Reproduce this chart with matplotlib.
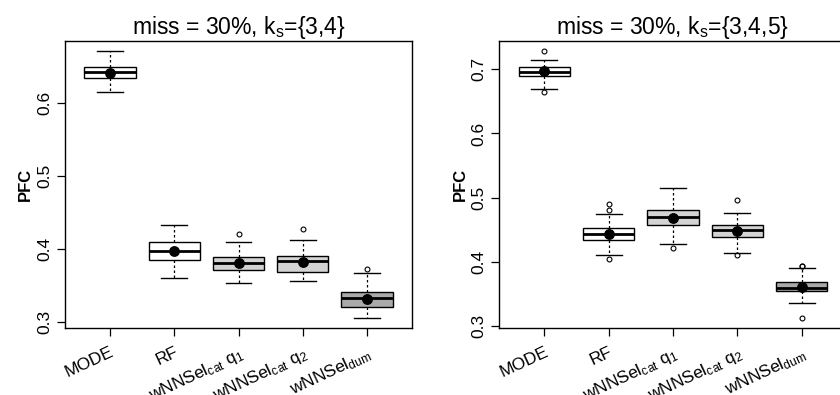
import numpy as np
import matplotlib
matplotlib.use("Agg")
import matplotlib.pyplot as plt

plt.rcParams['font.family'] = ['Liberation Sans', 'DejaVu Sans']
plt.rcParams['mathtext.fontset'] = 'custom'
plt.rcParams['mathtext.rm'] = 'Liberation Sans'
plt.rcParams['mathtext.it'] = 'Liberation Sans'

methods = ['MODE', 'RF', r'wNNSel$_{\rm cat}$ q$_{1}$', r'wNNSel$_{\rm cat}$ q$_{2}$', r'wNNSel$_{\rm dum}$']
box_colors = ['white', 'white', '#d3d3d3', '#d3d3d3', '#a9a9a9']
titles = [r'miss = 30%, k$_{\rm s}$={3,4}', r'miss = 30%, k$_{\rm s}$={3,4,5}']

# panel 1: miss = 30%, ks = {3,4}
whislo_34 = [0.615, 0.360, 0.353, 0.356, 0.305]
q1_34 = [0.634, 0.385, 0.371, 0.369, 0.320]
med_34 = [0.642, 0.397, 0.381, 0.383, 0.333]
q3_34 = [0.649, 0.409, 0.389, 0.391, 0.341]
whishi_34 = [0.671, 0.433, 0.410, 0.412, 0.367]
mean_34 = [0.641, 0.398, 0.381, 0.382, 0.332]
fliers_34 = [[], [], [0.420], [0.428], [0.373]]

# panel 2: miss = 30%, ks = {3,4,5}
whislo_345 = [0.670, 0.410, 0.428, 0.413, 0.335]
q1_345 = [0.690, 0.434, 0.458, 0.439, 0.354]
med_345 = [0.696, 0.444, 0.470, 0.449, 0.359]
q3_345 = [0.703, 0.453, 0.480, 0.457, 0.369]
whishi_345 = [0.714, 0.474, 0.515, 0.476, 0.390]
mean_345 = [0.697, 0.444, 0.469, 0.448, 0.361]
fliers_345 = [[0.664, 0.728], [0.404, 0.481, 0.490], [0.422], [0.410, 0.496], [0.313, 0.393, 0.394]]

ylims = [(0.292, 0.685), (0.297, 0.744)]
yticks = [[0.3, 0.4, 0.5, 0.6], [0.3, 0.4, 0.5, 0.6, 0.7]]


def make_stats(wl, lq, md, uq, wh, mn, fl):
    stats = []
    for i in range(len(md)):
        stats.append(dict(whislo=wl[i], q1=lq[i], med=md[i], q3=uq[i],
                          whishi=wh[i], mean=mn[i], fliers=np.array(fl[i])))
    return stats


panels = [
    make_stats(whislo_34, q1_34, med_34, q3_34, whishi_34, mean_34, fliers_34),
    make_stats(whislo_345, q1_345, med_345, q3_345, whishi_345, mean_345, fliers_345),
]

fig = plt.figure(figsize=(8.4, 3.95), dpi=100)
axes = [fig.add_axes([0.0774, 0.170, 0.4131, 0.726]),
        fig.add_axes([0.5944, 0.170, 0.4136, 0.726])]

for k, ax in enumerate(axes):
    bp = ax.bxp(panels[k], positions=np.arange(1, 6), widths=0.8,
                patch_artist=True, showmeans=True, capwidths=0.4,
                boxprops=dict(edgecolor='black', linewidth=1.0),
                medianprops=dict(color='black', linewidth=2.0),
                whiskerprops=dict(color='black', linestyle=(0, (2, 2)), linewidth=0.9),
                capprops=dict(color='black', linewidth=1.0),
                flierprops=dict(marker='o', markerfacecolor='none', markeredgecolor='black',
                                markersize=3.5, markeredgewidth=0.8),
                meanprops=dict(marker='o', markerfacecolor='black', markeredgecolor='black',
                               markersize=6.8))
    for patch, c in zip(bp['boxes'], box_colors):
        patch.set_facecolor(c)
    ax.set_xlim(0.3, 5.7)
    ax.set_ylim(*ylims[k])
    ax.set_yticks(yticks[k])
    ax.set_yticklabels([f'{v:.1f}' for v in yticks[k]], rotation=90, va='center', fontsize=12.5)
    ax.set_xticks(np.arange(1, 6))
    ax.set_xticklabels(methods, rotation=25, ha='right', rotation_mode='anchor', fontsize=12.5)
    ax.tick_params(axis='x', direction='out', length=6, width=0.9, pad=6)
    ax.tick_params(axis='y', direction='out', length=6, width=0.9, pad=3)
    ax.set_ylabel('PFC', fontweight='bold', fontsize=12, labelpad=3)
    ax.set_title(titles[k], fontsize=16.5, pad=5)
    for s in ax.spines.values():
        s.set_linewidth(1.0)

fig.savefig('out.png', dpi=100)
